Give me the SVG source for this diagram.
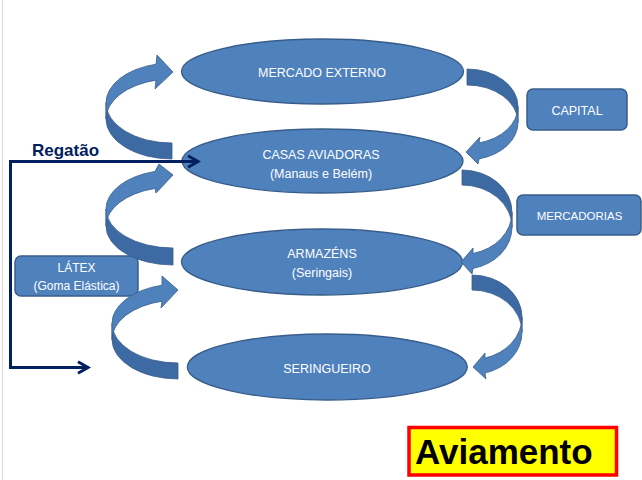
<svg xmlns="http://www.w3.org/2000/svg" width="642" height="480" viewBox="0 0 642 480">
  <style>
    .ell { fill: #4F81BD; stroke: #385D8A; stroke-width: 1.3; }
    .box { fill: #4F81BD; stroke: #385D8A; stroke-width: 1.5; }
    .t { font-family: "Liberation Sans", Arial, sans-serif; font-size: 12.5px; fill: #FFFFFF; text-anchor: middle; }
    .front { fill: #4F81BD; stroke: #385D8A; stroke-width: 0.8; }
    .back { fill: #3D6AA2; stroke: #385D8A; stroke-width: 0.8; }
    .rg { fill: none; stroke: #002060; stroke-width: 3; }
  </style>
  <defs>
    <marker id="chev" markerUnits="userSpaceOnUse" markerWidth="18" markerHeight="18" refX="13" refY="8" orient="auto-start-reverse" overflow="visible">
      <path d="M3,2.3 L13,8 L3,13.7" fill="none" stroke="#002060" stroke-width="3"/>
    </marker>
  </defs>
  <rect x="0" y="0" width="642" height="480" fill="#FFFFFF"/>
  <line x1="2.5" y1="0" x2="2.5" y2="480" stroke="#D9D9D9" stroke-width="1"/>

  <g id="node-mercado-externo">
    <ellipse class="ell" cx="322.5" cy="71.5" rx="141" ry="32.5"/>
    <text class="t" x="322" y="77">MERCADO EXTERNO</text>
  </g>
  <g id="node-casas-aviadoras">
    <ellipse class="ell" cx="322.5" cy="161" rx="140.5" ry="32"/>
    <text class="t" x="321" y="159">CASAS AVIADORAS</text>
    <text class="t" x="321" y="178">(Manaus e Belém)</text>
  </g>
  <g id="node-armazens">
    <ellipse class="ell" cx="322" cy="262" rx="140.5" ry="33"/>
    <text class="t" x="322" y="258">ARMAZÉNS</text>
    <text class="t" x="322" y="277">(Seringais)</text>
  </g>
  <g id="node-seringueiro">
    <ellipse class="ell" cx="327.3" cy="367" rx="140" ry="33"/>
    <text class="t" x="327" y="373">SERINGUEIRO</text>
  </g>
  <g id="node-capital">
    <rect class="box" x="527" y="89" width="100" height="41" rx="6"/>
    <text class="t" x="577" y="115">CAPITAL</text>
  </g>
  <g id="node-mercadorias">
    <rect class="box" x="517" y="195" width="124" height="40" rx="6"/>
    <text class="t" x="579.5" y="219.5" style="font-size:11.5px">MERCADORIAS</text>
  </g>
  <g id="node-latex">
    <rect class="box" x="15" y="256" width="123" height="40" rx="6"/>
    <text class="t" x="76.5" y="272" style="font-size:12px">LÁTEX</text>
    <text class="t" x="76.5" y="289.5" style="font-size:12px">(Goma Elástica)</text>
  </g>
  <g id="node-aviamento">
    <rect x="409" y="427.5" width="207.5" height="47.5" fill="#FFFF00" stroke="#FF0000" stroke-width="3.5"/>
    <text x="415" y="463.5" style="font-family:'Liberation Sans', Arial, sans-serif; font-size:35px; font-weight:bold; fill:#000000">Aviamento</text>
  </g>
  <g id="label-regatao">
    <text x="32" y="156" style="font-family:'Liberation Sans', Arial, sans-serif; font-size:17px; font-weight:bold; fill:#002060">Regatão</text>
  </g>

  <g id="connectors">
    <g id="arrow-casas-mercado">
      <path class="back" d="M172,143 A66,40 0 0 1 106,103 L106,119 A66,40 0 0 0 172,159 Z"/>
      <path class="front" d="M106,103 A66,40 0 0 1 156,64.2 L157,55 L173,72 L155,89 L156,80.2 A66,40 0 0 0 106,119 Z"/>
    </g>
    <g id="arrow-armazens-casas">
      <path class="back" d="M173,248 A67,39 0 0 1 106,209 L106,226 A67,39 0 0 0 173,265 Z"/>
      <path class="front" d="M106,209 A67,39 0 0 1 155,171.4 L159,164 L173,175 L156,193 L155,188.4 A67,39 0 0 0 106,226 Z"/>
    </g>
    <g id="arrow-seringueiro-armazens">
      <path class="back" d="M178,363 A66,39.5 0 0 1 112,323.5 L112,339.5 A66,39.5 0 0 0 178,379 Z"/>
      <path class="front" d="M112,323.5 A66,39.5 0 0 1 162,285.2 L162,276 L178,290 L161,308 L162,301.2 A66,39.5 0 0 0 112,339.5 Z"/>
    </g>
    <g id="arrow-mercado-casas">
      <path class="back" d="M467,69 A51,37.5 0 0 1 518,106.5 L518,122.5 A51,37.5 0 0 0 467,85 Z"/>
      <path class="front" d="M518,106.5 A51,37.5 0 0 1 479,142.9 L480,137 L466,152 L478,164 L479,158.9 A51,37.5 0 0 0 518,122.5 Z"/>
    </g>
    <g id="arrow-casas-armazens">
      <path class="back" d="M462,170 A50,42.25 0 0 1 512,212.25 L512,227.25 A50,42.25 0 0 0 462,185 Z"/>
      <path class="front" d="M512,212.25 A50,42.25 0 0 1 473,253.5 L473,248 L461,262 L472,274 L473,268.5 A50,42.25 0 0 0 512,227.25 Z"/>
    </g>
    <g id="arrow-armazens-seringueiro">
      <path class="back" d="M472,275 A50,42.25 0 0 1 522,317.25 L522,332.25 A50,42.25 0 0 0 472,290 Z"/>
      <path class="front" d="M522,317.25 A50,42.25 0 0 1 485,358.05 L485,353 L473,367 L486,379 L485,373.05 A50,42.25 0 0 0 522,332.25 Z"/>
    </g>
    <path id="connector-regatao" class="rg" d="M88,367.5 L10.5,367.5 L10.5,161.5 L198,161.5" marker-start="url(#chev)" marker-end="url(#chev)"/>
  </g>
</svg>
